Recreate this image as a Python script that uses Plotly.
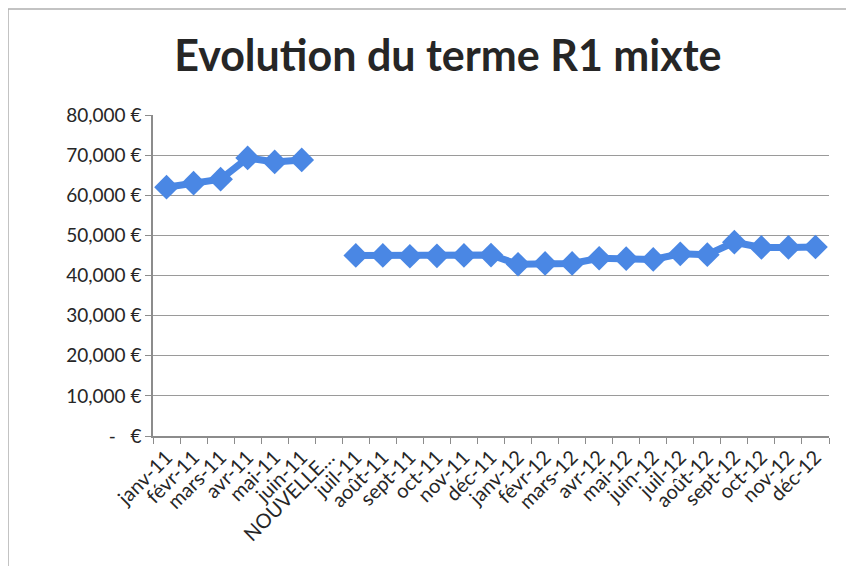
import plotly.graph_objects as go

categories = ["janv-11", "févr-11", "mars-11", "avr-11", "mai-11", "juin-11",
              "NOUVELLE…", "juil-11", "août-11", "sept-11", "oct-11", "nov-11",
              "déc-11", "janv-12", "févr-12", "mars-12", "avr-12", "mai-12",
              "juin-12", "juil-12", "août-12", "sept-12", "oct-12", "nov-12", "déc-12"]
values = [62000, 63000, 64000, 69300, 68300, 68800,
          None, 45000, 45000, 44800, 44900, 45000,
          45100, 42800, 43000, 43000, 44300, 44200,
          44000, 45400, 45200, 48300, 47000, 47000, 47100]
tick_vals = [0, 10000, 20000, 30000, 40000, 50000, 60000, 70000, 80000]
tick_text = ["-   €", "10,000 €", "20,000 €", "30,000 €", "40,000 €",
             "50,000 €", "60,000 €", "70,000 €", "80,000 €"]

FONT = "Lato"
BLUE = "#4A87E4"

fig = go.Figure()
fig.add_trace(go.Scatter(
    x=categories, y=values, mode="lines+markers",
    connectgaps=False,
    line=dict(color=BLUE, width=7),
    marker=dict(symbol="diamond", size=19, color=BLUE),
    hoverinfo="x+y",
))

fig.update_layout(
    width=854, height=566,
    paper_bgcolor="white", plot_bgcolor="white",
    margin=dict(l=145, r=33, t=107, b=138, autoexpand=False),
    showlegend=False,
    title=dict(text="<b>Evolution du terme R1 mixte</b>",
               x=0.515, xanchor="center", y=0.915, yanchor="middle",
               font=dict(family=FONT, size=43, color="#262626"),
               automargin=False),
    font=dict(family=FONT, color="#333333"),
)
fig.update_xaxes(
    type="category", tickangle=-45, automargin=False,
    tickfont=dict(family=FONT, size=20, color="#262626"),
    showgrid=False, showline=True, linecolor="#8c8c8c", linewidth=1.5,
    ticks="outside", ticklen=6, tickcolor="#8c8c8c", tickson="boundaries",
    range=[-0.5, len(categories) - 0.5],
)
fig.update_yaxes(
    range=[0, 80000], tickvals=tick_vals, ticktext=tick_text, automargin=False,
    tickfont=dict(family=FONT, size=19, color="#262626"),
    showgrid=True, gridcolor="#9a9a9a", gridwidth=1,
    showline=True, linecolor="#8c8c8c", linewidth=1.5,
    ticks="outside", ticklen=6, tickcolor="#8c8c8c",
    zeroline=False,
)
fig.add_shape(type="rect", xref="paper", yref="paper",
              x0=-145/676, x1=1+60/676, y0=-160/321, y1=1+106/321,
              line=dict(color="#b0b0b0", width=1.5), fillcolor="rgba(0,0,0,0)")

fig.write_html("out.html")
